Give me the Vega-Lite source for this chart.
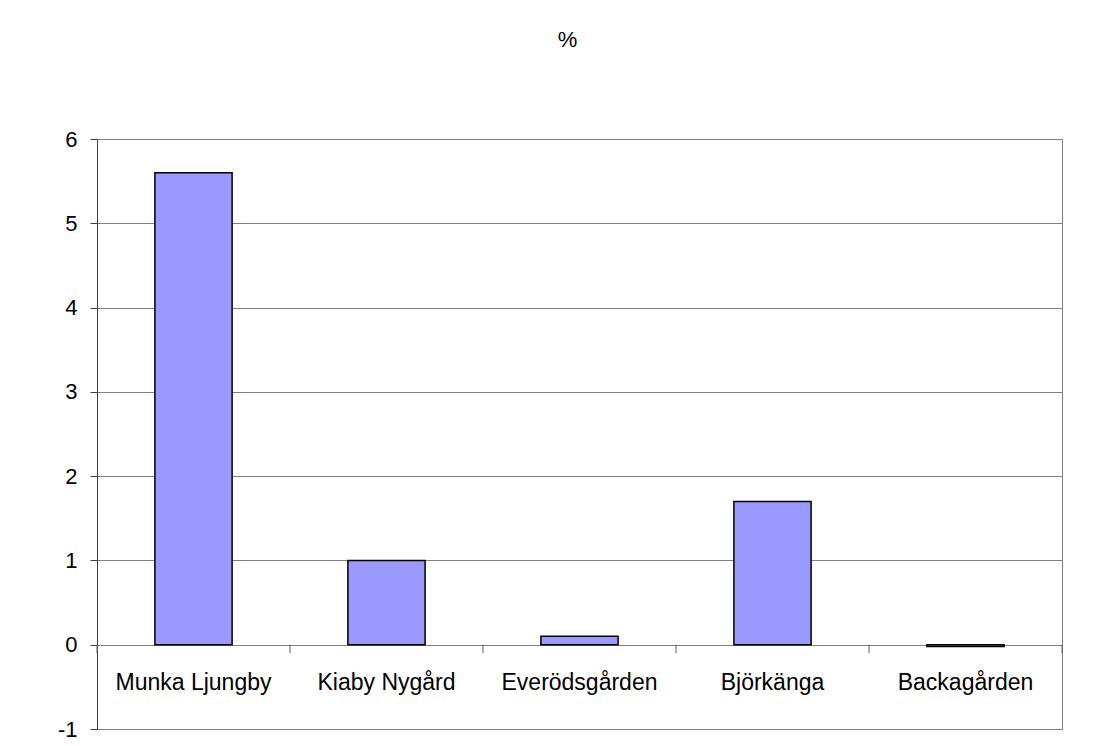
{
  "$schema": "https://vega.github.io/schema/vega-lite/v6.json",
  "width": 965,
  "height": 590,
  "autosize": {"type": "none"},
  "padding": {"left": 97, "top": 139, "right": 53, "bottom": 17},
  "background": "white",
  "title": {"text": "%", "fontSize": 22, "font": "Liberation Sans", "fontWeight": "normal", "color": "black", "offset": 76, "dx": -12, "anchor": "middle"},
  "config": {"view": {"stroke": "#808080", "strokeWidth": 1}, "font": "Liberation Sans"},
  "data": {"values": [
    {"site": "Munka Ljungby", "value": 5.6},
    {"site": "Kiaby Nygård", "value": 1.0},
    {"site": "Everödsgården", "value": 0.1},
    {"site": "Björkänga", "value": 1.7},
    {"site": "Backagården", "value": -0.02}
  ]},
  "encoding": {
    "x": {"field": "site", "type": "nominal", "sort": null, "scale": {"paddingInner": 0, "paddingOuter": 0}, "axis": null}
  },
  "layer": [
    {
      "mark": {"type": "bar", "fill": "#9999ff", "stroke": "black", "strokeWidth": 1.5, "width": {"band": 0.4}},
      "encoding": {
        "y": {"field": "value", "type": "quantitative",
          "scale": {"domain": [-1, 6], "nice": false},
          "axis": {"values": [-1, 0, 1, 2, 3, 4, 5, 6], "labelExpr": "'' + datum.value", "grid": true, "gridColor": "#808080", "gridOpacity": 1, "domainColor": "#404040", "tickColor": "#404040", "tickSize": 7, "labelFontSize": 22, "labelColor": "black", "labelPadding": 13, "labelFont": "Liberation Sans", "title": null}
        }
      }
    },
    {
      "mark": {"type": "rule", "color": "#606060"},
      "encoding": {
        "x": {"field": "site", "type": "nominal", "sort": null, "bandPosition": 0},
        "y": {"datum": 0},
        "y2": {"datum": -0.1}
      }
    },
    {
      "transform": [{"filter": "datum.site === 'Backagården'"}],
      "mark": {"type": "rule", "color": "#606060"},
      "encoding": {
        "x": {"field": "site", "type": "nominal", "sort": null, "bandPosition": 1},
        "y": {"datum": 0},
        "y2": {"datum": -0.1}
      }
    },
    {
      "mark": {"type": "text", "fontSize": 23, "color": "black", "font": "Liberation Sans", "baseline": "middle"},
      "encoding": {
        "text": {"field": "site"},
        "y": {"datum": -0.45}
      }
    }
  ]
}
